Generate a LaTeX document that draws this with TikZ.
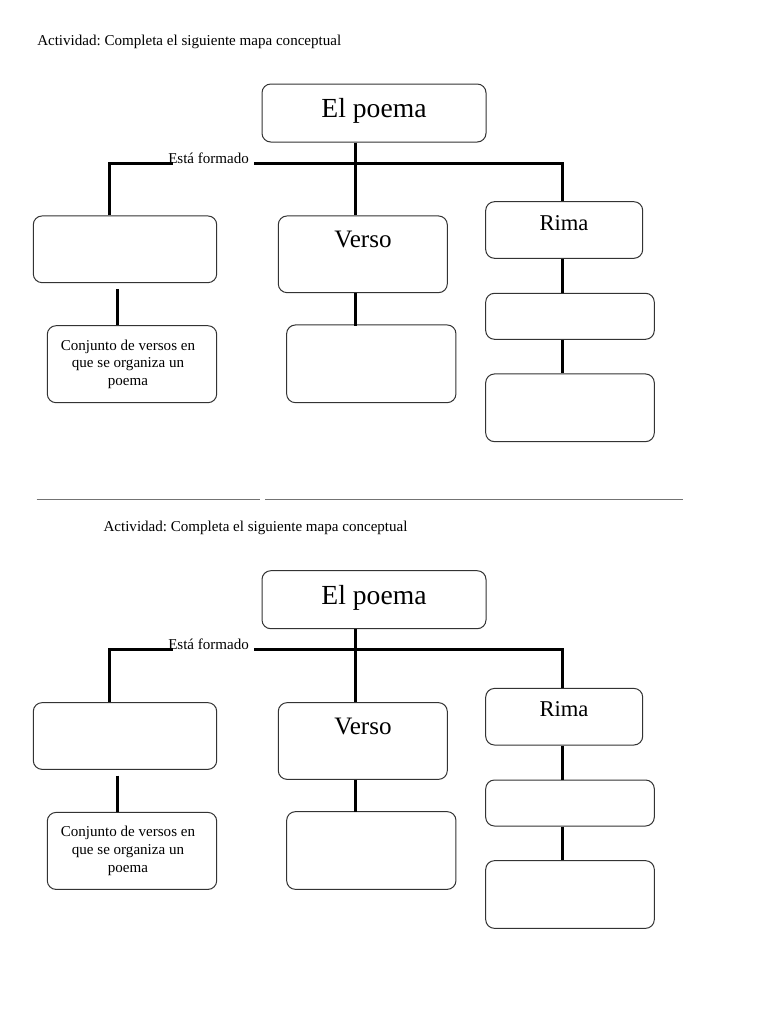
\documentclass[tikz,border=0pt]{standalone}
\usepackage{fontspec}
\setmainfont{Liberation Serif}
\frenchspacing
\newdimen\pxu
\pxu=0.797pt

\begin{document}
\begin{tikzpicture}[x=\pxu,y=-\pxu,
		box/.style={draw=black!80,line width=0.8pt,rounded corners=7pt,inner sep=0pt,align=center},
		link/.style={line width=2.4pt},
		txt/.style={font=\fontsize{12}{14}\selectfont,inner sep=0pt}]
				% Page
				\fill[white] (0,0) rectangle (768,1024);
				\useasboundingbox (0,0) rectangle (768,1024);
				
				% Two copies of the same activity
				\foreach \k/\sh/\tx in {a/0/37,b/387.9/103.3}{
				\begin{scope}[yshift=-\sh pt]
				% Add title
				\node[txt,anchor=base west] (titulo-\k) at (\tx,45) {Actividad: Completa el siguiente mapa conceptual};
				
				% Create the boxes
				\node[box,minimum width=224\pxu,minimum height=58\pxu] (poema-\k) at (374,113) {};
				\node[box,minimum width=183.4\pxu,minimum height=66.7\pxu] (vacia-\k) at (125,249.3) {};
				\node[box,txt,minimum width=169.4\pxu,minimum height=77\pxu] (conj-\k) at (132,364.2) {\hspace*{-8\pxu}Conjunto de versos en\\\hspace*{-8\pxu}que se organiza un\\\hspace*{-8\pxu}poema};
				\node[box,minimum width=169\pxu,minimum height=76.7\pxu] (verso-\k) at (362.8,254.3) {};
				\node[box,minimum width=169.3\pxu,minimum height=77.7\pxu] (versub-\k) at (371.3,363.8) {};
				\node[box,minimum width=157\pxu,minimum height=56.6\pxu] (rima-\k) at (564.2,230) {};
				\node[box,minimum width=168.6\pxu,minimum height=46\pxu] (rimsub-\k) at (570,316.3) {};
				\node[box,minimum width=168.6\pxu,minimum height=67.7\pxu] (rimbaja-\k) at (570,407.8) {};
				
				% Box texts
				\node[font=\fontsize{22}{26}\selectfont,anchor=base] (tpoema-\k) at (374,117.3) {El poema};
				\node[font=\fontsize{20}{24}\selectfont,anchor=base] (tverso-\k) at (363,247.3) {Verso};
				\node[font=\fontsize{18}{22}\selectfont,anchor=base] (trima-\k) at (564,230) {Rima};
				\node[txt,anchor=base west] (formado-\k) at (168,163) {Está formado};
				
				% Connectors
				\coordinate (jl-\k) at (109.3,163);
				\coordinate (jc-\k) at (355.7,163);
				\coordinate (jr-\k) at (562.7,163);
				\coordinate (tk-\k) at (117.3,289);
				\draw[link] (vacia-\k.north -| jl-\k) -- (jl-\k) -- ([xshift=4pt]formado-\k.base west);
				\draw[link] ([xshift=4pt]formado-\k.base east) -- (jr-\k) -- (rima-\k.north -| jr-\k);
				\draw[link] (poema-\k.south -| jc-\k) -- (verso-\k.north -| jc-\k);
				\draw[link] (verso-\k.south -| jc-\k) -- ([yshift=-1pt]versub-\k.north -| jc-\k);
				\draw[link] (tk-\k) -- (tk-\k |- conj-\k.north);
				\draw[link] (rima-\k.south -| jr-\k) -- (rimsub-\k.north -| jr-\k);
				\draw[link] (rimsub-\k.south -| jr-\k) -- (rimbaja-\k.north -| jr-\k);
				\end{scope}}
				
				% Cut line between the copies
				\draw[black!55,line width=0.8pt] (36.7,499) -- (260,499);
				\draw[black!55,line width=0.8pt] (265,499) -- (682.7,499);
			\end{tikzpicture}
\end{document}
